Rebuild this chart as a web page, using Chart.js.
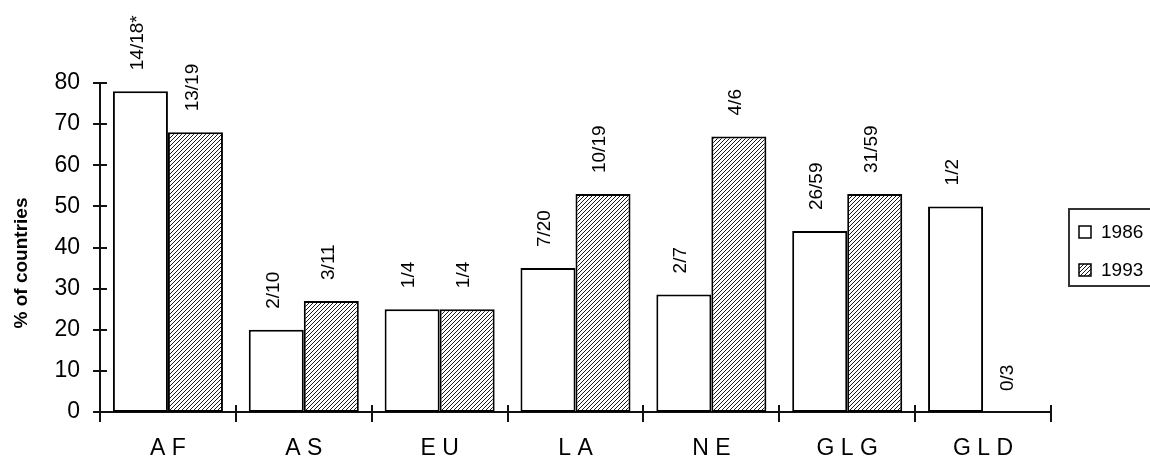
<!DOCTYPE html>
<html>
<head>
<meta charset="utf-8">
<script src="https://cdn.jsdelivr.net/npm/chart.js@4"></script>
<style>
  html, body { margin: 0; padding: 0; background: #fff; }
  #wrap { width: 1150px; height: 458px; }
</style>
</head>
<body>
<div id="wrap"><canvas id="chart" width="1150" height="458"></canvas></div>
<script>
const categories = ["A F", "A S", "E U", "L A", "N E", "G L G", "G L D"];
const values1986 = [78, 20, 25, 35, 28.6, 44, 50];
const values1993 = [68, 27, 25, 53, 67, 53, 0];
const fractions1986 = ["14/18*", "2/10", "1/4", "7/20", "2/7", "26/59", "1/2"];
const fractions1993 = ["13/19", "3/11", "1/4", "10/19", "4/6", "31/59", "0/3"];
const yTicks = [0, 10, 20, 30, 40, 50, 60, 70, 80];

const fontName = '"Liberation Sans", Arial, sans-serif';

// diagonal hatch like the old excel fill
function makeHatch() {
  const c = document.createElement("canvas");
  c.width = 16;
  c.height = 16;
  const g = c.getContext("2d");
  g.fillStyle = "#fff";
  g.fillRect(0, 0, 16, 16);
  g.strokeStyle = "#000";
  g.lineWidth = 0.9;
  for (let k = -16; k <= 32; k += 4) {
    g.beginPath();
    g.moveTo(k, 16);
    g.lineTo(k + 16, 0);
    g.stroke();
  }
  return g.createPattern(c, "repeat");
}
const hatch = makeHatch();

const extras = {
  id: "extras",
  afterDatasetsDraw(chart) {
    const ctx = chart.ctx;
    ctx.save();
    ctx.font = "19px " + fontName;
    ctx.fillStyle = "#000";
    ctx.textAlign = "left";
    ctx.textBaseline = "middle";
    const labelSets = [fractions1986, fractions1993];
    chart.data.datasets.forEach((ds, i) => {
      chart.getDatasetMeta(i).data.forEach((bar, j) => {
        ctx.save();
        ctx.translate(bar.x - 3, bar.y - 21);
        ctx.rotate(-Math.PI / 2);
        ctx.fillText(labelSets[i][j], 0, 0);
        ctx.restore();
      });
    });
    ctx.restore();
  },
  afterDraw(chart) {
    const ctx = chart.ctx;
    const x = chart.scales.x;
    const y = chart.scales.y;
    const left = chart.chartArea.left;
    const bottom = chart.chartArea.bottom;
    ctx.save();
    ctx.strokeStyle = "#111";
    ctx.lineWidth = 2;
    // crossing tick marks
    yTicks.forEach((v) => {
      const py = Math.round(y.getPixelForValue(v));
      ctx.beginPath();
      ctx.moveTo(left - 7, py);
      ctx.lineTo(left + 7, py);
      ctx.stroke();
    });
    for (let i = 0; i <= categories.length; i++) {
      const px = Math.round(x.getPixelForValue(i - 0.5));
      ctx.beginPath();
      ctx.moveTo(px, bottom - 7);
      ctx.lineTo(px, bottom + 10);
      ctx.stroke();
    }

    // y title
    ctx.save();
    ctx.translate(22, 263);
    ctx.rotate(-Math.PI / 2);
    ctx.font = "bold 19px " + fontName;
    ctx.fillStyle = "#000";
    ctx.textAlign = "center";
    ctx.textBaseline = "middle";
    ctx.fillText("% of countries", 0, 0);
    ctx.restore();

    // legend box (runs off the right edge like the original)
    ctx.lineWidth = 2;
    ctx.strokeStyle = "#333";
    ctx.strokeRect(1069, 209, 120, 77);
    ctx.lineWidth = 1.5;
    ctx.strokeStyle = "#000";
    ctx.fillStyle = "#fff";
    ctx.fillRect(1079, 226, 12, 12);
    ctx.strokeRect(1079, 226, 12, 12);
    ctx.fillStyle = hatch;
    ctx.fillRect(1079, 264, 12, 12);
    ctx.strokeRect(1079, 264, 12, 12);
    ctx.font = "19px " + fontName;
    ctx.fillStyle = "#000";
    ctx.textAlign = "left";
    ctx.textBaseline = "middle";
    ctx.fillText("1986", 1101, 233);
    ctx.fillText("1993", 1101, 271);
    ctx.restore();
  }
};

new Chart(document.getElementById("chart"), {
  type: "bar",
  data: {
    labels: categories,
    datasets: [
      {
        label: "1986",
        data: values1986,
        backgroundColor: "#fff",
        borderColor: "#000",
        borderWidth: 2,
        borderSkipped: false,
        categoryPercentage: 0.81,
        barPercentage: 1
      },
      {
        label: "1993",
        data: values1993,
        backgroundColor: hatch,
        borderColor: "#000",
        borderWidth: 2,
        borderSkipped: false,
        categoryPercentage: 0.81,
        barPercentage: 1
      }
    ]
  },
  options: {
    responsive: false,
    animation: false,
    devicePixelRatio: 1,
    layout: { padding: { top: 83, right: 99, left: 0, bottom: 0 } },
    plugins: {
      legend: { display: false },
      tooltip: { enabled: false }
    },
    scales: {
      x: {
        grid: { display: false, drawTicks: false },
        border: { display: true, color: "#111", width: 2 },
        ticks: {
          color: "#000",
          padding: 23,
          maxRotation: 0,
          font: { family: fontName, size: 23 }
        },
        afterFit(scale) { scale.height = 46; }
      },
      y: {
        min: 0,
        max: 80,
        grid: { display: false, drawTicks: false },
        border: { display: true, color: "#111", width: 2 },
        ticks: {
          stepSize: 10,
          color: "#000",
          padding: 20,
          font: { family: fontName, size: 23 }
        },
        afterFit(scale) { scale.width = 100; }
      }
    }
  },
  plugins: [extras]
});
</script>
</body>
</html>
